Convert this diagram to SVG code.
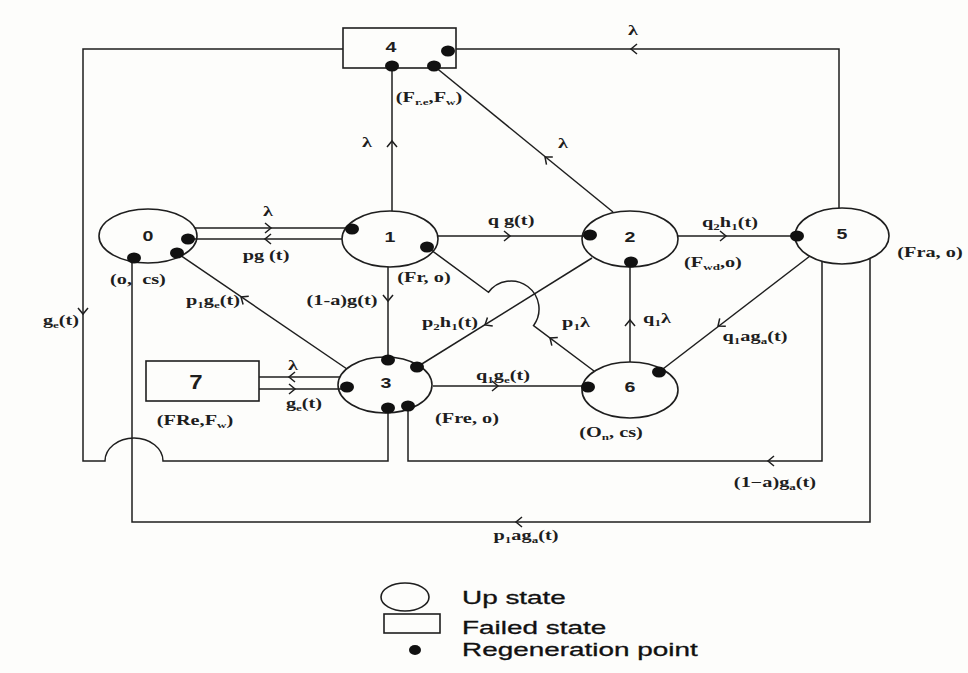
<svg xmlns="http://www.w3.org/2000/svg" xmlns:xlink="http://www.w3.org/1999/xlink" width="968" height="673" viewBox="0 0 968 673">
<defs>
<style>
.ln{fill:none;stroke:#1e1e1e;stroke-width:1.5}
.nd{fill:none;stroke:#1e1e1e;stroke-width:1.6}
.dot{fill:#111}
.lb{font-family:"Liberation Serif","Times New Roman",serif;font-size:14px;font-weight:bold;fill:#1e1e1e;text-anchor:middle}
.nm{font-family:"Liberation Sans",Arial,sans-serif;font-size:14px;font-weight:bold;fill:#1e1e1e;text-anchor:middle}
.lg{font-family:"Liberation Sans",Arial,sans-serif;font-size:18px;fill:#111;stroke:#111;stroke-width:0.3}
.sb{font-size:9px}
</style>
<path id="ah" d="M-6,-5 L0,0 L-6,5" fill="none" stroke="#1e1e1e" stroke-width="1.5"/>
</defs>
<rect width="968" height="673" fill="#fdfdfb"/>

<g id="connectors">
<path class="ln" d="M195,228 H352"/>
<use xlink:href="#ah" transform="translate(271,228)"/>
<path class="ln" d="M188,239 H342"/>
<use xlink:href="#ah" transform="translate(265,239) rotate(180)"/>
<path class="ln" d="M392,211 V66"/>
<use xlink:href="#ah" transform="translate(392,141) rotate(-90)"/>
<path class="ln" d="M388,267 V360"/>
<use xlink:href="#ah" transform="translate(388,301) rotate(90)"/>
<path class="ln" d="M438,236 H590"/>
<use xlink:href="#ah" transform="translate(510,236)"/>
<path class="ln" d="M678,236 H797"/>
<use xlink:href="#ah" transform="translate(726,236)"/>
<path class="ln" d="M613,212 L434,66"/>
<use xlink:href="#ah" transform="translate(545,157) rotate(219.2)"/>
<path class="ln" d="M839,208 V49 H456"/>
<use xlink:href="#ah" transform="translate(631,49) rotate(180)"/>
<path class="ln" d="M347,369 L177,253"/>
<use xlink:href="#ah" transform="translate(241,297) rotate(214.5)"/>
<path class="ln" d="M592,258 L417,367"/>
<use xlink:href="#ah" transform="translate(485,325) rotate(148.1)"/>
<path class="ln" d="M594,371 L533.5,325.7 A28,28 0 0 0 488.5,292.3 L427,247"/>
<use xlink:href="#ah" transform="translate(550,338) rotate(216.6)"/>
<path class="ln" d="M630,362 V262"/>
<use xlink:href="#ah" transform="translate(630,320) rotate(-90)"/>
<path class="ln" d="M810,256 L659,372"/>
<use xlink:href="#ah" transform="translate(718,326) rotate(142.5)"/>
<path class="ln" d="M433,386 H588"/>
<use xlink:href="#ah" transform="translate(498,386)"/>
<path class="ln" d="M259,377 H340"/>
<use xlink:href="#ah" transform="translate(289,377) rotate(180)"/>
<path class="ln" d="M259,389 H347"/>
<use xlink:href="#ah" transform="translate(295,389)"/>
<path class="ln" d="M343,49 H83 V461 H105 A29,23 0 0 1 163,461 H388 V408"/>
<use xlink:href="#ah" transform="translate(83,314) rotate(90)"/>
<path class="ln" d="M822,261 V461 H408 V406"/>
<use xlink:href="#ah" transform="translate(768,461) rotate(180)"/>
<path class="ln" d="M870,258 V522 H132 V258"/>
<use xlink:href="#ah" transform="translate(516,522) rotate(180)"/>
</g>

<g id="node0">
<ellipse class="nd" cx="148" cy="236" rx="49" ry="27"/>
<text class="nm" transform="matrix(1.4 0 0 1 148 241)">0</text>
<ellipse class="dot" cx="188" cy="239" rx="7" ry="5.5"/>
<ellipse class="dot" cx="177" cy="253" rx="7" ry="5.5"/>
<ellipse class="dot" cx="134" cy="258" rx="7" ry="5.5"/>
<text class="lb" transform="matrix(1.45 0 0 1 138 284)">(o, &#160;cs)</text>
</g>

<g id="node1">
<ellipse class="nd" cx="390" cy="239" rx="48" ry="28"/>
<text class="nm" transform="matrix(1.4 0 0 1 390 242)">1</text>
<ellipse class="dot" cx="352" cy="229" rx="7" ry="5.5"/>
<ellipse class="dot" cx="427" cy="247" rx="7" ry="5.5"/>
<text class="lb" transform="matrix(1.45 0 0 1 424 282)">(Fr, o)</text>
</g>

<g id="node2">
<ellipse class="nd" cx="630" cy="239" rx="48" ry="28"/>
<text class="nm" transform="matrix(1.4 0 0 1 630 242)">2</text>
<ellipse class="dot" cx="590" cy="235" rx="7" ry="5.5"/>
<ellipse class="dot" cx="631" cy="262" rx="7" ry="5.5"/>
<text class="lb" transform="matrix(1.45 0 0 1 713 267)">(F<tspan class="sb" dy="3">wd</tspan><tspan dy="-3">,o)</tspan></text>
</g>

<g id="node3">
<ellipse class="nd" cx="385" cy="385" rx="47" ry="28"/>
<text class="nm" transform="matrix(1.4 0 0 1 386 388)">3</text>
<ellipse class="dot" cx="388" cy="360" rx="7" ry="5.5"/>
<ellipse class="dot" cx="417" cy="367" rx="7" ry="5.5"/>
<ellipse class="dot" cx="347" cy="387" rx="7" ry="5.5"/>
<ellipse class="dot" cx="388" cy="408" rx="7" ry="5.5"/>
<ellipse class="dot" cx="408" cy="406" rx="7" ry="5.5"/>
<text class="lb" transform="matrix(1.45 0 0 1 467 423)">(Fre, o)</text>
</g>

<g id="node4">
<rect class="nd" x="343" y="28" width="113" height="40"/>
<text class="nm" transform="matrix(1.4 0 0 1 391 52)">4</text>
<ellipse class="dot" cx="392" cy="66" rx="7" ry="5.5"/>
<ellipse class="dot" cx="434" cy="66" rx="7" ry="5.5"/>
<ellipse class="dot" cx="448" cy="51" rx="7" ry="5.5"/>
<text class="lb" transform="matrix(1.45 0 0 1 429 102)">(F<tspan class="sb" dy="3">r.e</tspan><tspan dy="-3">,F</tspan><tspan class="sb" dy="3">w</tspan><tspan dy="-3">)</tspan></text>
</g>

<g id="node5">
<ellipse class="nd" cx="842" cy="236" rx="47" ry="28"/>
<text class="nm" transform="matrix(1.4 0 0 1 842 239)">5</text>
<ellipse class="dot" cx="797" cy="236" rx="7" ry="5.5"/>
<text class="lb" transform="matrix(1.45 0 0 1 930 257)">(Fra, o)</text>
</g>

<g id="node6">
<ellipse class="nd" cx="630" cy="390" rx="48" ry="28"/>
<text class="nm" transform="matrix(1.4 0 0 1 630 392)">6</text>
<ellipse class="dot" cx="588" cy="387" rx="7" ry="5.5"/>
<ellipse class="dot" cx="659" cy="372" rx="7" ry="5.5"/>
<text class="lb" transform="matrix(1.45 0 0 1 611 437)">(O<tspan class="sb" dy="3">n</tspan><tspan dy="-3">, cs)</tspan></text>
</g>

<g id="node7">
<rect class="nd" x="146" y="361" width="113" height="40"/>
<text class="nm" style="font-size:20px" transform="matrix(1.2 0 0 1 196 389)">7</text>
<text class="lb" transform="matrix(1.45 0 0 1 195 425)">(FRe,F<tspan class="sb" dy="3">w</tspan><tspan dy="-3">)</tspan></text>
</g>

<g id="labels">
<text class="lb" transform="matrix(1.45 0 0 1 367 147)">λ</text>
<text class="lb" transform="matrix(1.45 0 0 1 633 35)">λ</text>
<text class="lb" transform="matrix(1.45 0 0 1 563 148)">λ</text>
<text class="lb" transform="matrix(1.45 0 0 1 268 216)">λ</text>
<text class="lb" transform="matrix(1.45 0 0 1 266 260)">pg (t)</text>
<text class="lb" transform="matrix(1.45 0 0 1 511 225)">q g(t)</text>
<text class="lb" transform="matrix(1.45 0 0 1 730 227)">q<tspan class="sb" dy="3">2</tspan><tspan dy="-3">h</tspan><tspan class="sb" dy="3">1</tspan><tspan dy="-3">(t)</tspan></text>
<text class="lb" transform="matrix(1.45 0 0 1 657 323)">q<tspan class="sb" dy="3">1</tspan><tspan dy="-3">λ</tspan></text>
<text class="lb" transform="matrix(1.45 0 0 1 755 341)">q<tspan class="sb" dy="3">1</tspan><tspan dy="-3">ag</tspan><tspan class="sb" dy="3">a</tspan><tspan dy="-3">(t)</tspan></text>
<text class="lb" transform="matrix(1.45 0 0 1 576 327)">p<tspan class="sb" dy="3">1</tspan><tspan dy="-3">λ</tspan></text>
<text class="lb" transform="matrix(1.45 0 0 1 450 327)">p<tspan class="sb" dy="3">2</tspan><tspan dy="-3">h</tspan><tspan class="sb" dy="3">1</tspan><tspan dy="-3">(t)</tspan></text>
<text class="lb" transform="matrix(1.45 0 0 1 342 305)">(1-a)g(t)</text>
<text class="lb" transform="matrix(1.45 0 0 1 213 305)">p<tspan class="sb" dy="3">1</tspan><tspan dy="-3">g</tspan><tspan class="sb" dy="3">e</tspan><tspan dy="-3">(t)</tspan></text>
<text class="lb" transform="matrix(1.45 0 0 1 503 380)">q<tspan class="sb" dy="3">1</tspan><tspan dy="-3">g</tspan><tspan class="sb" dy="3">e</tspan><tspan dy="-3">(t)</tspan></text>
<text class="lb" transform="matrix(1.45 0 0 1 775 487)">(1−a)g<tspan class="sb" dy="3">a</tspan><tspan dy="-3">(t)</tspan></text>
<text class="lb" transform="matrix(1.45 0 0 1 526 540)">p<tspan class="sb" dy="3">1</tspan><tspan dy="-3">ag</tspan><tspan class="sb" dy="3">a</tspan><tspan dy="-3">(t)</tspan></text>
<text class="lb" transform="matrix(1.45 0 0 1 61 325)">g<tspan class="sb" dy="3">e</tspan><tspan dy="-3">(t)</tspan></text>
<text class="lb" transform="matrix(1.45 0 0 1 293 370)">λ</text>
<text class="lb" transform="matrix(1.45 0 0 1 304 408)">g<tspan class="sb" dy="3">e</tspan><tspan dy="-3">(t)</tspan></text>
</g>

<g id="legend">
<ellipse class="nd" cx="405" cy="597" rx="24" ry="14"/>
<text class="lg" transform="matrix(1.55 0 0 1 462 604)">Up state</text>
<rect class="nd" x="384" y="614" width="56" height="19"/>
<text class="lg" transform="matrix(1.55 0 0 1 462 634)">Failed state</text>
<ellipse class="dot" cx="415" cy="650" rx="6" ry="5"/>
<text class="lg" transform="matrix(1.55 0 0 1 462 656)">Regeneration point</text>
</g>
</svg>
